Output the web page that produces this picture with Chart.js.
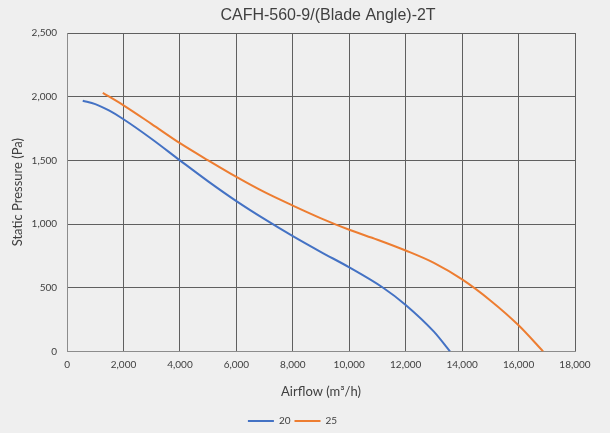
<!DOCTYPE html>
<html>
<head>
<meta charset="utf-8">
<script src="https://cdn.jsdelivr.net/npm/chart.js@4"></script>
<style>
  html, body { margin: 0; padding: 0; background: #efefef; }
  canvas { display: block; }
</style>
</head>
<body>
<canvas id="fan-canvas" width="610" height="433"></canvas>
<script>
// Fan curve readings (airflow m3/h vs static pressure Pa)
const seriesNames = ["20", "25"];
const flow20 = [555, 1000, 1500, 2000, 3000, 4000, 5000, 6000, 7000, 8000, 9000, 10000, 11200, 12000, 13000, 13570];
const pres20 = [1968, 1942, 1890, 1823, 1668, 1500, 1335, 1180, 1038, 905, 780, 660, 500, 365, 155, 0];
const flow25 = [1265, 2000, 3000, 4000, 5000, 6000, 7000, 8000, 9000, 10000, 11000, 12000, 13000, 14000, 15000, 16000, 16870];
const pres25 = [2030, 1932, 1785, 1635, 1500, 1370, 1250, 1145, 1045, 955, 877, 792, 695, 565, 400, 205, 0];
const chartTitle = "CAFH-560-9/(Blade Angle)-2T";

function toPoints(xs, ys) {
    return xs.map((x, i) => ({ x: x, y: ys[i] }));
}

// Title is centred over the plot area, not the whole canvas
const plotTitle = {
    id: 'plotTitle',
    afterDraw(chart) {
        const ctx = chart.ctx;
        const area = chart.chartArea;
        ctx.save();
        ctx.font = '16px "Liberation Sans", Arial, sans-serif';
        ctx.fillStyle = '#404040';
        ctx.textAlign = 'center';
        ctx.textBaseline = 'middle';
        ctx.fillText(chartTitle, (area.left + area.right) / 2 + 7, 16);
        ctx.restore();
    }
};

const tickFont = { family: 'Lato, "Liberation Sans", sans-serif', size: 10 };
const axisTitleFont = { family: 'Lato, "Liberation Sans", sans-serif', size: 13 };

new Chart('fan-canvas', {
    type: 'line',
    data: {
        datasets: [{
            label: seriesNames[0],
            data: toPoints(flow20, pres20),
            borderColor: '#4472c4',
            backgroundColor: '#4472c4',
            borderWidth: 2,
            pointRadius: 0,
            cubicInterpolationMode: 'monotone',
        }, {
            label: seriesNames[1],
            data: toPoints(flow25, pres25),
            borderColor: '#ed7d31',
            backgroundColor: '#ed7d31',
            borderWidth: 2,
            pointRadius: 0,
            cubicInterpolationMode: 'monotone',
        }],
    },
    options: {
        responsive: false,
        animation: false,
        layout: { padding: { top: 33, right: 35, left: 10, bottom: -3 } },
        scales: {
            x: {
                type: 'linear',
                min: 0,
                max: 18000,
                ticks: {
                    stepSize: 2000,
                    color: '#404040',
                    font: tickFont,
                    padding: 7,
                    maxRotation: 0,
                    callback: v => v.toLocaleString('en-US'),
                },
                grid: { color: '#5f5f5f', drawTicks: false },
                border: { color: '#8c8c8c' },
                title: {
                    display: true,
                    text: 'Airflow (m³/h)',
                    color: '#404040',
                    font: axisTitleFont,
                    padding: { top: 7, bottom: 12 },
                },
            },
            y: {
                min: 0,
                max: 2500,
                ticks: {
                    stepSize: 500,
                    color: '#404040',
                    font: tickFont,
                    padding: 10,
                    callback: v => v.toLocaleString('en-US'),
                },
                grid: { color: '#5f5f5f', drawTicks: false },
                border: { color: '#8c8c8c' },
                title: {
                    display: true,
                    text: 'Static Pressure (Pa)',
                    color: '#404040',
                    font: axisTitleFont,
                    padding: { top: 0, bottom: -4 },
                },
            },
        },
        plugins: {
            title: { display: false },
            tooltip: { enabled: false },
            legend: {
                position: 'bottom',
                labels: {
                    boxWidth: 26,
                    boxHeight: 0,
                    padding: 4,
                    color: '#404040',
                    font: tickFont,
                },
            },
        },
    },
    plugins: [plotTitle],
});
</script>
</body>
</html>
